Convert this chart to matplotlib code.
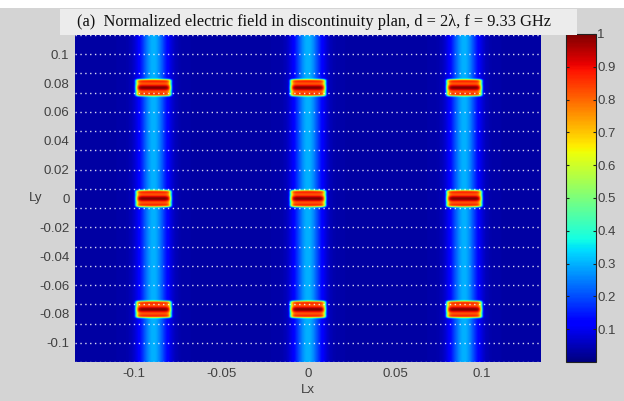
import numpy as np
import matplotlib.pyplot as plt
from matplotlib.patches import Rectangle

# Field layout: three slot columns, three hot spots per column
col_x = [-0.089, 0.0, 0.090]        # stripe centres (m)
spot_y = [-0.077, 0.0, 0.077]       # hot spot centres (m)
background_level = 0.035
stripe_level = 0.30
spot_level = 1.0
stripe_sigma = 0.0055
spot_half_w = 0.0102
spot_half_h = 0.0058

x_lim = (-0.134, 0.134)
y_lim = (-0.1133, 0.1133)
x_ticks = [-0.1, -0.05, 0, 0.05, 0.1]
x_ticklabels = ['-0.1', '-0.05', '0', '0.05', '0.1']
y_ticks = [0.1, 0.08, 0.06, 0.04, 0.02, 0, -0.02, -0.04, -0.06, -0.08, -0.1]
y_ticklabels = ['0.1', '0.08', '0.06', '0.04', '0.02', '0',
                '-0.02', '-0.04', '-0.06', '-0.08', '-0.1']
cbar_ticks = [0.1, 0.2, 0.3, 0.4, 0.5, 0.6, 0.7, 0.8, 0.9, 1]
cbar_ticklabels = ['0.1', '0.2', '0.3', '0.4', '0.5', '0.6', '0.7', '0.8', '0.9', '1']
grid_y = [k / 150 for k in range(-17, 18, 2)]

# build the normalized field on a grid
xs = np.linspace(x_lim[0], x_lim[1], 540)
ys = np.linspace(y_lim[0], y_lim[1], 400)
X, Y = np.meshgrid(xs, ys)
E = np.full_like(X, background_level)
for cx in col_x:
    E += (stripe_level - background_level) * np.exp(-(X - cx) ** 2 / (2 * stripe_sigma ** 2))
for cx in col_x:
    for cy in spot_y:
        mask = np.exp(-np.abs((X - cx) / spot_half_w) ** 12) * np.exp(-np.abs((Y - cy) / spot_half_h) ** 10)
        ripple = 0.91 + 0.09 * np.cos((Y - cy) / spot_half_h * 2.0 * np.pi)
        E = E * (1 - mask) + spot_level * ripple * mask
E = np.clip(E, 0, 1)

plt.rcParams['font.family'] = ['Liberation Sans', 'DejaVu Sans']
fig = plt.figure(figsize=(6.24, 4.01), dpi=100, facecolor='#d4d4d4')
fig.patches.append(Rectangle((0, 1 - 8 / 401), 1, 8 / 401, transform=fig.transFigure,
                             facecolor='white', edgecolor='none', zorder=0))

ax = fig.add_axes([75 / 624, 39 / 401, 466 / 624, 327 / 401])
im = ax.imshow(E, extent=[x_lim[0], x_lim[1], y_lim[0], y_lim[1]], origin='lower',
               aspect='auto', cmap='jet', vmin=0, vmax=1, interpolation='bilinear')
for gy in grid_y:
    ax.axhline(gy, color='white', lw=1.0, linestyle=(0, (1, 2.5)), alpha=0.85)
ax.set_xlim(x_lim)
ax.set_ylim(y_lim)
ax.set_xticks(x_ticks)
ax.set_xticklabels(x_ticklabels)
ax.set_yticks(y_ticks)
ax.set_yticklabels(y_ticklabels)
ax.tick_params(length=0, labelsize=9.5, labelcolor='#404040', pad=4)
for s in ax.spines.values():
    s.set_visible(False)
ax.set_xlabel('Lx', fontsize=9.5, color='#404040', va='center')
ax.set_ylabel('Ly', fontsize=9.5, color='#404040', rotation=0, va='center', ha='center')
ax.xaxis.set_label_coords(0.5, -0.085)
ax.yaxis.set_label_coords(-0.084, 0.5)

cax = fig.add_axes([566 / 624, 39 / 401, 30 / 624, 328 / 401])
cb = fig.colorbar(im, cax=cax, ticks=cbar_ticks)
cb.ax.set_yticklabels(cbar_ticklabels)
cb.ax.tick_params(labelsize=9.5, labelcolor='#404040', length=2.5, direction='in',
                  left=True, right=True, color='#222222', pad=1)
cb.outline.set_edgecolor('#222222')
cb.outline.set_linewidth(0.8)

# title strip
fig.patches.append(Rectangle((60 / 624, 1 - 35 / 401), 517 / 624, 26 / 401,
                             transform=fig.transFigure, facecolor='#ececec',
                             edgecolor='none', zorder=5))
fig.text(314 / 624, 1 - 22 / 401,
         '(a)  Normalized electric field in discontinuity plan, d = 2\u03bb, f = 9.33 GHz',
         ha='center', va='center', fontsize=11.8, family=['Liberation Serif', 'DejaVu Serif'],
         color='#111111', zorder=6)

fig.savefig('out.png', dpi=100, facecolor=fig.get_facecolor())
